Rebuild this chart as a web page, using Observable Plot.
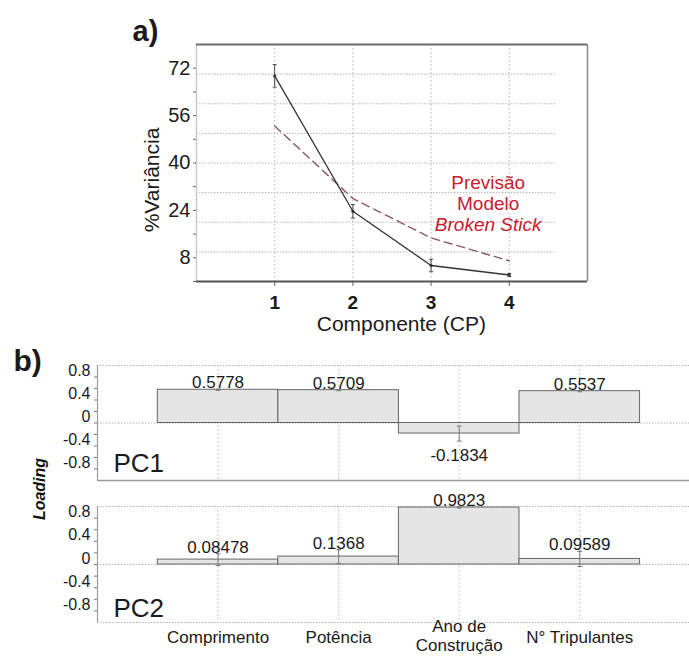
<!DOCTYPE html>
<html><head><meta charset="utf-8">
<script src="https://cdn.jsdelivr.net/npm/d3@7"></script>
<script src="https://cdn.jsdelivr.net/npm/@observablehq/plot@0.6"></script>
<style>
html,body{margin:0;padding:0;background:#fff;}
#root{position:relative;width:689px;height:657px;overflow:hidden;font-family:"Liberation Sans",Arial,sans-serif;}
#root > *{position:absolute;left:0;}
#loading{left:-10px !important;top:479px;width:100px;height:20px;line-height:20px;text-align:center;
  transform:rotate(-90deg);font-weight:bold;font-style:italic;font-size:16px;color:#111;}
</style></head><body><div id="root"></div>
<script>
// ---------- data: panel a (scree plot) ----------
const components = [1, 2, 3, 4];
const varianceExplained = [69.4, 23.7, 5.4, 2.2];
const varianceError = [3.8, 2.3, 2.1, 0.5];
const brokenStick = [52.5, 28.0, 14.7, 7.0];
const varianceTicks = [8, 24, 40, 56, 72];
const varianceMinorTicks = [0, 8, 16, 24, 32, 40, 48, 56, 64, 72];
const varianceGrid = [10, 20, 30, 40, 50, 60, 70];

// ---------- data: panel b (loadings) ----------
const variables = ["Comprimento", "Potência", "Ano de\nConstrução", "N° Tripulantes"];
const pc1Loadings = [0.5778, 0.5709, -0.1834, 0.5537];
const pc1Errors = [0.01, 0.01, 0.13, 0.01];
const pc2Loadings = [0.08478, 0.1368, 0.9823, 0.09589];
const pc2Errors = [0.10, 0.12, 0.01, 0.13];
const loadingTicks = [0.8, 0.4, 0, -0.4, -0.8];
const loadingMinorTicks = [0.8, 0.6, 0.4, 0.2, 0, -0.2, -0.4, -0.6, -0.8];

const FONT = "Liberation Sans, Arial, sans-serif";
const GRID = "#b4b4b4";
const root = document.getElementById("root");

// ---------- panel a ----------
const scree = components.map((c, i) => ({cp: c, v: varianceExplained[i], e: varianceError[i], bs: brokenStick[i]}));
const plotA = Plot.plot({
  width: 689, height: 340,
  marginLeft: 196, marginRight: 102, marginTop: 44, marginBottom: 59,
  x: {domain: [0, 5]},
  y: {domain: [0, 80]},
  style: {fontFamily: FONT, background: "transparent", color: "#1a1a1a"},
  marks: [
    Plot.ruleY(varianceGrid, {x1: 0, x2: 4.6, stroke: GRID, strokeDasharray: "1.5,1.5"}),
    Plot.ruleX(components, {stroke: GRID, strokeDasharray: "1.5,2.5"}),
    Plot.ruleX([0], {stroke: "#c8c8c8", strokeWidth: 1.5}),
    Plot.ruleX([5], {stroke: "#8a8a8a", strokeWidth: 1.5}),
    Plot.ruleY([80], {stroke: "#6a6a6a", strokeWidth: 2}),
    Plot.ruleY([0], {stroke: "#555", strokeWidth: 2}),
    Plot.axisY(varianceMinorTicks, {tickSize: 3, tickFormat: () => "", label: null, stroke: "#666"}),
    Plot.axisY(varianceTicks, {tickSize: 0, tickPadding: 6, fontSize: 20, label: null}),
    Plot.axisX(components, {tickSize: 5, tickPadding: 9, fontSize: 19, fontWeight: "bold", label: null, stroke: "#666"}),
    Plot.line(scree, {x: "cp", y: "bs", stroke: "#8c5567", strokeWidth: 1.4, strokeDasharray: "8,5"}),
    Plot.line(scree, {x: "cp", y: "v", stroke: "#333", strokeWidth: 1.3}),
    Plot.ruleX(scree, {x: "cp", y1: d => d.v - d.e, y2: d => d.v + d.e, stroke: "#444", strokeWidth: 1}),
    Plot.link(scree, {x1: d => d.cp - 0.025, x2: d => d.cp + 0.025, y1: d => d.v + d.e, y2: d => d.v + d.e, stroke: "#444"}),
    Plot.link(scree, {x1: d => d.cp - 0.025, x2: d => d.cp + 0.025, y1: d => d.v - d.e, y2: d => d.v - d.e, stroke: "#444"}),
    Plot.dot(scree, {x: "cp", y: "v", r: 1.6, fill: "#333"}),
    Plot.text(["Previsão\nModelo"], {x: 3.73, y: 29.8, fontSize: 19, lineHeight: 1.1, fill: "#c8202f", text: d => d}),
    Plot.text(["Broken Stick"], {x: 3.73, y: 19.0, fontSize: 19, fontStyle: "italic", fill: "#c8202f", text: d => d}),
    Plot.text(["Componente (CP)"], {x: 2.62, frameAnchor: "bottom", dy: 49, fontSize: 21, text: d => d}),
    Plot.text(["%Variância"], {y: 16.6, frameAnchor: "left", dx: -44, rotate: -90, fontSize: 21, text: d => d}),
    Plot.text(["a)"], {frameAnchor: "top-left", textAnchor: "start", lineAnchor: "bottom", dx: -64, dy: -4, fontSize: 29, fontWeight: "bold", text: d => d})
  ]
});
plotA.style.top = "0px";
root.appendChild(plotA);

// ---------- panel b ----------
function loadingPanel(pcName, values, errors, o) {
  const rows = variables.map((name, i) => ({i: i + 1, name, v: values[i], e: errors[i]}));
  const marks = [
    Plot.ruleX(rows, {x: "i", stroke: GRID, strokeDasharray: "1.5,2.5"}),
    Plot.ruleY([1, 0], {stroke: GRID, strokeDasharray: "1.5,1.5"}),
    o.solidBottom ? Plot.ruleY([-1], {stroke: "#9a9a9a", strokeWidth: 1.5})
                  : Plot.ruleY([-1], {stroke: GRID, strokeDasharray: "1.5,1.5"}),
    Plot.ruleX([0], {stroke: "#9a9a9a", strokeWidth: 1.2}),
    Plot.rectY(rows, {x1: d => d.i - 0.5, x2: d => d.i + 0.5, y1: 0, y2: "v", fill: "#e5e5e5", stroke: "#666", strokeWidth: 1}),
    Plot.ruleX(rows, {x: "i", y1: d => d.v - d.e, y2: d => d.v + d.e, stroke: "#777"}),
    Plot.link(rows, {x1: d => d.i - 0.02, x2: d => d.i + 0.02, y1: d => d.v + d.e, y2: d => d.v + d.e, stroke: "#777"}),
    Plot.link(rows, {x1: d => d.i - 0.02, x2: d => d.i + 0.02, y1: d => d.v - d.e, y2: d => d.v - d.e, stroke: "#777"}),
    Plot.axisY(loadingMinorTicks, {tickSize: 3, tickFormat: () => "", label: null, stroke: "#777"}),
    Plot.axisY(loadingTicks, {tickSize: 0, tickPadding: 7, dy: -6, fontSize: 16, tickFormat: d => String(d), label: null}),
    Plot.text(rows.filter(d => d.v >= 0), {x: "i", y: d => d.v + d.e, text: d => String(d.v), lineAnchor: "bottom", dy: -1, fontSize: 17}),
    Plot.text(rows.filter(d => d.v < 0), {x: "i", y: d => d.v - d.e, text: d => String(d.v), lineAnchor: "top", dy: 8, fontSize: 17}),
    Plot.text([pcName], {frameAnchor: "bottom-left", textAnchor: "start", lineAnchor: "bottom", dx: 16, dy: o.pcdy, fontSize: 26, text: d => d})
  ];
  if (o.xaxis) {
    // single-line category labels hang below the frame; the two-line one is anchored so it stays inside the page
    marks.push(Plot.text(rows.filter(d => !d.name.includes("\n")), {x: "i", text: "name", frameAnchor: "bottom", lineAnchor: "top", dy: 8, fontSize: 17}));
    marks.push(Plot.text(rows.filter(d => d.name.includes("\n")), {x: "i", text: "name", frameAnchor: "bottom", lineAnchor: "bottom", dy: 28, lineHeight: 1.08, fontSize: 17}));
  }
  if (o.extra) marks.push(...o.extra);
  return Plot.plot({
    width: 689, height: o.height,
    marginLeft: 97, marginRight: 0, marginTop: o.mt, marginBottom: o.mb,
    x: {domain: [0, 4.91], axis: null},
    y: {domain: [-1, 1]},
    style: {fontFamily: FONT, background: "transparent", color: "#1a1a1a"},
    marks
  });
}

const pc1 = loadingPanel("PC1", pc1Loadings, pc1Errors, {
  height: 145, mt: 25, mb: 5, solidBottom: true, pcdy: -9, xaxis: false,
  extra: [Plot.text(["b)"], {frameAnchor: "top-left", textAnchor: "start", lineAnchor: "bottom", dx: -84, dy: 5, fontSize: 30, fontWeight: "bold", text: d => d})]
});
pc1.style.top = "340px";
root.appendChild(pc1);

const pc2 = loadingPanel("PC2", pc2Loadings, pc2Errors, {
  height: 172, mt: 21, mb: 35, solidBottom: false, pcdy: -6, xaxis: true
});
pc2.style.top = "485px";
root.appendChild(pc2);

const lab = document.createElement("div");
lab.id = "loading";
lab.textContent = "Loading";
root.appendChild(lab);
</script>
</body></html>
